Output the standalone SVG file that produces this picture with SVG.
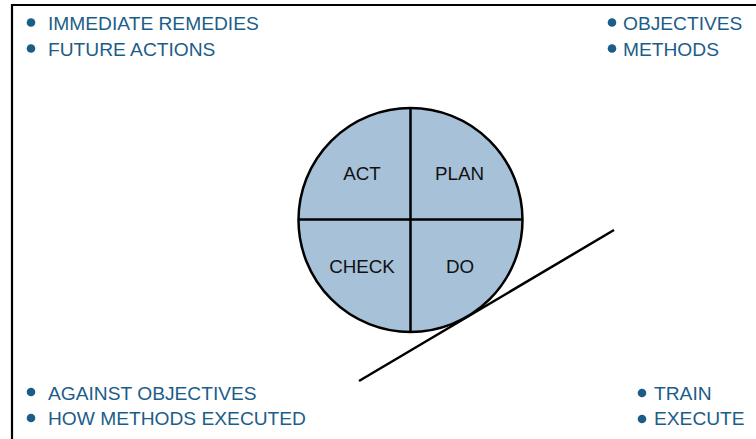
<svg xmlns="http://www.w3.org/2000/svg" width="756" height="439" viewBox="0 0 756 439">
<style>
.lbl{font-family:"Liberation Sans",Arial,sans-serif;font-size:19.2px;fill:#1b5d89}
.dot{fill:#1b5d89}
.ct{font-family:"Liberation Sans",Arial,sans-serif;font-size:18.8px;fill:#111;text-anchor:middle}
.ln{stroke:#000;stroke-width:2.5;fill:none}
</style>
<rect width="756" height="439" fill="#fff"/>
<path d="M12,440 V5 H760" fill="none" stroke="#000" stroke-width="2.2"/>
<g id="act-notes">
<circle class="dot" cx="31" cy="22.5" r="4.3"/><text class="lbl" x="48" y="30">IMMEDIATE REMEDIES</text>
<circle class="dot" cx="31" cy="48.5" r="4.3"/><text class="lbl" x="48" y="56">FUTURE ACTIONS</text>
</g>
<g id="plan-notes">
<circle class="dot" cx="612" cy="22.5" r="4.3"/><text class="lbl" x="623" y="30">OBJECTIVES</text>
<circle class="dot" cx="612" cy="48.5" r="4.3"/><text class="lbl" x="623" y="56">METHODS</text>
</g>
<g id="check-notes">
<circle class="dot" cx="31" cy="392" r="4.3"/><text class="lbl" x="48" y="400">AGAINST OBJECTIVES</text>
<circle class="dot" cx="31" cy="418" r="4.3"/><text class="lbl" x="48" y="425">HOW METHODS EXECUTED</text>
</g>
<g id="do-notes">
<circle class="dot" cx="642" cy="393" r="4.3"/><text class="lbl" x="654" y="400">TRAIN</text>
<circle class="dot" cx="642" cy="419" r="4.3"/><text class="lbl" x="654" y="425">EXECUTE</text>
</g>
<g id="pdca-wheel">
<circle cx="410.5" cy="220" r="112" fill="#a7c2d8" stroke="#000" stroke-width="2.5"/>
<line class="ln" x1="410.5" y1="108" x2="410.5" y2="332"/>
<line class="ln" x1="298.5" y1="219.5" x2="522.5" y2="219.5"/>
</g>
<g id="act"><text class="ct" x="362" y="180">ACT</text></g>
<g id="plan"><text class="ct" x="459.5" y="180">PLAN</text></g>
<g id="check"><text class="ct" x="362" y="273">CHECK</text></g>
<g id="do"><text class="ct" x="460" y="273">DO</text></g>
<g id="connectors">
<line class="ln" x1="359" y1="381" x2="614" y2="230"/>
</g>
</svg>
